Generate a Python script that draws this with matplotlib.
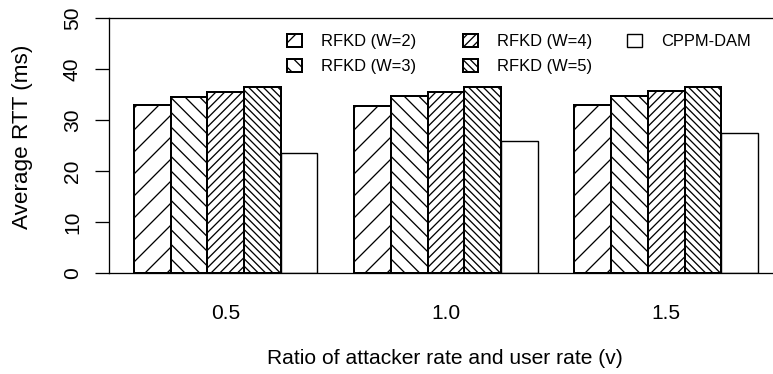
import matplotlib
matplotlib.use('Agg')
from matplotlib import pyplot as plt

# values
ratios = ['0.5', '1.0', '1.5']
series_names = ['RFKD (W=2)', 'RFKD (W=3)', 'RFKD (W=4)', 'RFKD (W=5)', 'CPPM-DAM']
rfkd_w2 = [33.0, 32.9, 33.0]
rfkd_w3 = [34.6, 34.7, 34.7]
rfkd_w4 = [35.6, 35.6, 35.8]
rfkd_w5 = [36.5, 36.5, 36.5]
cppm_dam = [23.6, 25.9, 27.6]
hatches = ['//', '\\\\\\', '/////', '\\\\\\\\\\\\', '']

DPI = 132
PT = 72.0 / DPI  # pixels -> points

plt.rcParams['font.family'] = ['Liberation Sans', 'DejaVu Sans']
plt.rcParams['hatch.linewidth'] = 1.3 * PT
plt.rcParams['hatch.color'] = 'black'

fig = plt.figure(figsize=(773 / DPI, 374 / DPI), dpi=DPI)
ax = fig.add_axes([109 / 773, 101 / 374, 1 - 109 / 773, (273 - 18.5) / 374])

series = [rfkd_w2, rfkd_w3, rfkd_w4, rfkd_w5, cppm_dam]
n = len(series)
bars = []
for k, (vals, name, h) in enumerate(zip(series, series_names, hatches)):
    xs = [g * (n + 1) + 1 + k for g in range(len(ratios))]
    b = ax.bar(xs, vals, width=1, align='edge', color='white', edgecolor='black',
               linewidth=(2.0 if h else 1.4) * PT, hatch=h, label=name)
    bars.append(b)

ax.set_xlim(0.32, 18.41)
ax.set_ylim(0, 50)
ax.set_xticks([g * (n + 1) + 1 + n / 2 for g in range(len(ratios))])
ax.set_xticklabels(ratios)
ax.set_yticks(range(0, 51, 10))

for s in ['left', 'top', 'bottom']:
    ax.spines[s].set_linewidth(1.3 * PT)
ax.spines['right'].set_visible(False)
ax.tick_params(axis='x', length=0, pad=31 * PT, labelsize=21 * PT)
ax.tick_params(axis='y', length=14 * PT, width=1.3 * PT, pad=13 * PT,
               labelsize=21 * PT, labelrotation=90)
for t in ax.get_yticklabels():
    t.set_va('center')

fig.text(23 / 773, 1 - 137 / 374, 'Average RTT (ms)', rotation=90,
         ha='center', va='center', fontsize=22.5 * PT)
fig.text(445 / 773, 1 - 358 / 374, 'Ratio of attacker rate and user rate (v)',
         ha='center', va='center', fontsize=21 * PT)

fs = 16.5
opts = dict(loc='upper left', bbox_transform=fig.transFigure, frameon=False,
            fontsize=fs * PT, handlelength=15 / fs, handleheight=13 / fs,
            handletextpad=19 / fs, labelspacing=0.62,
            borderpad=0, borderaxespad=0)
leg1 = ax.legend(bars[:4], series_names[:4], ncol=2,
                 bbox_to_anchor=(287 / 773, 1 - 34 / 374),
                 columnspacing=47 / fs, **opts)
ax.add_artist(leg1)
ax.legend(bars[4:], series_names[4:], ncol=1,
          bbox_to_anchor=(627 / 773, 1 - 34 / 374), **opts)

fig.savefig('out.png', dpi=DPI)
